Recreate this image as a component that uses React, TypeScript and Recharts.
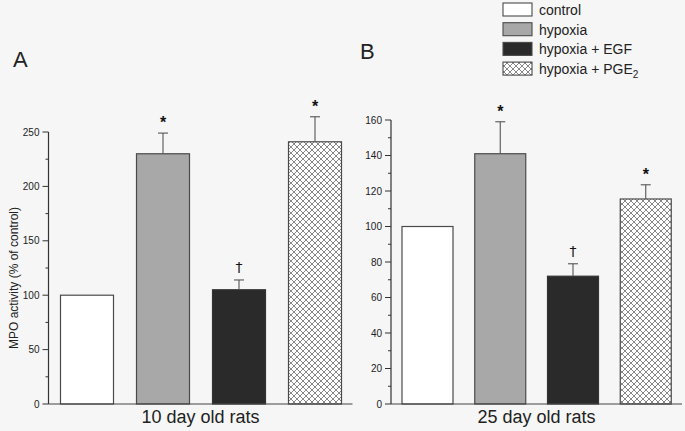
import React from 'react';
import { BarChart, Bar, XAxis, YAxis } from 'recharts';

const groups = ['control', 'hypoxia', 'hypoxia + EGF', 'hypoxia + PGE2'];
const values10 = [100, 230, 105, 241];
const errors10 = [0, 19, 9, 23];
const marks10 = ['', '*', '†', '*'];
const values25 = [100, 141, 72, 115.5];
const errors25 = [0, 18, 7, 8];
const marks25 = ['', '*', '†', '*'];
const ticks10 = [0, 25, 50, 75, 100, 125, 150, 175, 200, 225, 250];
const majorStep10 = 50;
const ticks25 = [0, 10, 20, 30, 40, 50, 60, 70, 80, 90, 100, 110, 120, 130, 140, 150, 160];
const majorStep25 = 20;
const category10 = '10 day old rats';
const category25 = '25 day old rats';
const yLabel = 'MPO activity (% of control)';

const FONT = '"Liberation Sans", Arial, Helvetica, sans-serif';
const TEXT = '#222';
const STROKE = '#4a4a4a';

const build = (vals: number[], errs: number[], marks: string[]) =>
  groups.map((g, i) => ({ name: g, value: vals[i], err: errs[i], mark: marks[i] }));

const data10 = build(values10, errors10, marks10);
const data25 = build(values25, errors25, marks25);

const fillsFor = (hatchId: string) => ['#ffffff', '#a8a8a8', '#2a2a2a', `url(#${hatchId})`];

const HatchDefs = ({ id }: { id: string }) => (
  <defs>
    <pattern id={id} width="6" height="6" patternUnits="userSpaceOnUse">
      <rect width="6" height="6" fill="#ffffff" />
      <path d="M0,0 L6,6 M6,0 L0,6 M-1,5 L1,7 M5,-1 L7,1 M-1,1 L1,-1 M5,7 L7,5" stroke="#6a6a6a" strokeWidth="0.8" />
    </pattern>
  </defs>
);

const makeShape = (hatchId: string) => (props: any) => {
  const { x, y, width, height, index, payload } = props;
  const fills = fillsFor(hatchId);
  const pxPerUnit = payload.value ? height / payload.value : 0;
  const errTop = y - payload.err * pxPerUnit;
  const cx = x + width / 2;
  const isStar = payload.mark === '*';
  return (
    <g>
      <rect x={x} y={y} width={width} height={height} fill={fills[index]} stroke={index === 2 ? '#333' : STROKE} strokeWidth={1.2} />
      {payload.err > 0 && (
        <g stroke="#555" strokeWidth={1.1}>
          <line x1={cx} y1={y} x2={cx} y2={errTop} />
          <line x1={cx - 5} y1={errTop} x2={cx + 5} y2={errTop} />
        </g>
      )}
      {payload.mark && (
        <text x={cx} y={errTop - (isStar ? 5 : 8)} textAnchor="middle" fontSize={isStar ? 16 : 14}
          fontWeight={isStar ? 'bold' : 'normal'} fontFamily={isStar ? FONT : '"DejaVu Sans", sans-serif'} fill="#111">
          {payload.mark}
        </text>
      )}
    </g>
  );
};

const makeTick = (step: number) => (props: any) => {
  const { x, y, payload } = props;
  const major = payload.value % step === 0;
  return (
    <g>
      <line x1={x - (major ? 6 : 3)} y1={y} x2={x} y2={y} stroke="#333" strokeWidth={1} />
      {major && (
        <text x={x - 9} y={y} dy={3.5} textAnchor="end" fontSize={10} fontFamily={FONT} fill={TEXT}>
          {payload.value}
        </text>
      )}
    </g>
  );
};

const YLabelContent = (props: any) => {
  const vb = props.viewBox || { x: 0, y: 0, width: 0, height: 0 };
  const cx = 14;
  const cy = vb.y + vb.height / 2 + 10;
  return (
    <text x={cx} y={cy} transform={`rotate(-90, ${cx}, ${cy})`} textAnchor="middle" dominantBaseline="central" fontSize={12} fontFamily={FONT} fill={TEXT}>
      {yLabel}
    </text>
  );
};

const legendFills = ['#ffffff', '#a8a8a8', '#2a2a2a', 'url(#hatchL)'];

export default function App() {
  return (
    <div style={{ position: 'absolute', left: 0, top: 0, width: 685, height: 431, background: '#f6f6f6', overflow: 'hidden' }}>
      <div style={{ position: 'absolute', left: 0, top: 0 }}>
        <BarChart width={360} height={431} data={data10} margin={{ top: 132, right: 7.5, bottom: 0, left: 0 }}>
          <HatchDefs id="hatchA" />
          <XAxis dataKey="name" type="category" tick={false} tickLine={false} axisLine={{ stroke: '#444', strokeWidth: 1.2 }} height={27}
            label={{ value: category10, position: 'insideBottom', offset: 8, fontSize: 18, fontFamily: FONT, fill: TEXT }} />
          <YAxis type="number" domain={[0, 250]} ticks={ticks10} interval={0} width={48.5} tickSize={0} tickMargin={0}
            tickLine={false} axisLine={{ stroke: '#333', strokeWidth: 1.2 }} tick={makeTick(majorStep10)}
            label={{ content: YLabelContent }} />
          <Bar dataKey="value" barSize={53} isAnimationActive={false} shape={makeShape('hatchA')} />
        </BarChart>
      </div>
      <div style={{ position: 'absolute', left: 340, top: 0 }}>
        <BarChart width={345} height={431} data={data25} margin={{ top: 120, right: 3, bottom: 0, left: 0 }}>
          <HatchDefs id="hatchB" />
          <XAxis dataKey="name" type="category" tick={false} tickLine={false} axisLine={{ stroke: '#444', strokeWidth: 1.2 }} height={27}
            label={{ value: category25, position: 'insideBottom', offset: 8, fontSize: 18, fontFamily: FONT, fill: TEXT }} />
          <YAxis type="number" domain={[0, 160]} ticks={ticks25} interval={0} width={51} tickSize={0} tickMargin={0}
            tickLine={false} axisLine={{ stroke: '#333', strokeWidth: 1.2 }} tick={makeTick(majorStep25)} />
          <Bar dataKey="value" barSize={51} isAnimationActive={false} shape={makeShape('hatchB')} />
        </BarChart>
      </div>
      <svg width={685} height={431} style={{ position: 'absolute', left: 0, top: 0, pointerEvents: 'none' }}>
        <HatchDefs id="hatchL" />
        <text x={13} y={67} fontSize={22} fontFamily={FONT} fill={TEXT}>A</text>
        <text x={360} y={59} fontSize={22} fontFamily={FONT} fill={TEXT}>B</text>
        {groups.map((g, i) => {
          const top = 3 + i * 19.7;
          const isPGE = g.endsWith('PGE2');
          return (
            <g key={g}>
              <rect x={503} y={top} width={29} height={13} fill={legendFills[i]} stroke={STROKE} strokeWidth={1.1} />
              <text x={539} y={top + 12} fontSize={14} fontFamily={FONT} fill={TEXT}>
                {isPGE ? (
                  <>
                    {g.slice(0, -1)}
                    <tspan fontSize={10} dy={4}>{g.slice(-1)}</tspan>
                  </>
                ) : g}
              </text>
            </g>
          );
        })}
      </svg>
    </div>
  );
}
